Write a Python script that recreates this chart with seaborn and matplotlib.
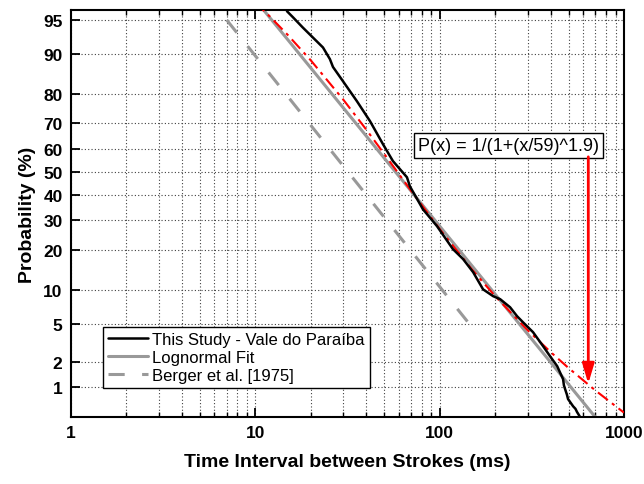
import math
import numpy as np
import pandas as pd
import matplotlib
matplotlib.use("Agg")
import matplotlib.pyplot as plt
from matplotlib.ticker import FixedLocator, FixedFormatter, NullFormatter, LogLocator
import seaborn as sns

# ---------------- data ----------------
study_x = [14.86, 16.0, 18.1, 21.6, 23.3, 25.4, 26.4, 29.9, 35.6, 41.9, 49.3, 55.8,
           66.5, 69.0, 81.2, 96.7, 118, 134, 152, 172, 195, 213, 241, 263, 283,
           321, 364, 397, 434, 467, 472, 479, 490, 497, 510, 530, 545, 556, 578, 600]
study_p = [95.9, 95.3, 94.1, 92.1, 91.1, 88.9, 87.2, 83.7, 77.8, 70.9, 61.8, 54.7,
           47.7, 43.8, 34.3, 27.9, 20.2, 17.3, 13.9, 10.2, 8.95, 8.43, 7.16, 5.93, 5.20,
           4.15, 2.97, 2.31, 1.78, 1.25, 1.05, 0.94, 0.80, 0.70, 0.64, 0.56, 0.52, 0.47, 0.40, 0.30]

lognormal_x = [8.8, 968]
lognormal_p = [97.72, 0.135]

berger_x = [7.0, 145]
berger_p = [95.0, 5.0]

loglogistic_x = [10, 12, 15, 20, 30, 40, 50, 70, 100, 150, 200, 300, 400, 500, 700, 1000]
loglogistic_p = [96.68, 95.37, 93.10, 88.65, 78.33, 67.67, 57.80, 41.95, 26.84, 14.52,
                 8.95, 4.35, 2.566, 1.696, 0.902, 0.460]

y_ticks = [1, 2, 5, 10, 20, 30, 40, 50, 60, 70, 80, 90, 95]
x_ticks = [1, 10, 100, 1000]
x_ticklabels = ["1", "10", "100", "1000"]

legend_labels = ["This Study - Vale do Paraíba", "Lognormal Fit", "Berger et al. [1975]"]
formula_text = "P(x) = 1/(1+(x/59)^1.9)"

# ---------------- normal probability scale ----------------
_a = [-3.969683028665376e+01, 2.209460984245205e+02, -2.759285104469687e+02,
      1.383577518672690e+02, -3.066479806614716e+01, 2.506628277459239e+00]
_b = [-5.447609879822406e+01, 1.615858368580409e+02, -1.556989798598866e+02,
      6.680131188771972e+01, -1.328068155288572e+01]
_c = [-7.784894002430293e-03, -3.223964580411365e-01, -2.400758277161838e+00,
      -2.549671010229528e+00, 4.374664141464968e+00, 2.938163982698783e+00]
_d = [7.784695709041462e-03, 3.224671290700398e-01, 2.445134137142996e+00,
      3.754408661907416e+00]


def _ppf(p):
    p = np.clip(np.asarray(p, dtype=float), 1e-12, 1 - 1e-12)
    plow = 0.02425
    q = p - 0.5
    r = q * q
    central = (((((_a[0]*r + _a[1])*r + _a[2])*r + _a[3])*r + _a[4])*r + _a[5]) * q / \
              (((((_b[0]*r + _b[1])*r + _b[2])*r + _b[3])*r + _b[4])*r + 1)
    ql = np.sqrt(-2 * np.log(np.minimum(p, 1 - p)))
    tail = (((((_c[0]*ql + _c[1])*ql + _c[2])*ql + _c[3])*ql + _c[4])*ql + _c[5]) / \
           ((((_d[0]*ql + _d[1])*ql + _d[2])*ql + _d[3])*ql + 1)
    return np.where(p < plow, tail, np.where(p > 1 - plow, -tail, central))


_erf = np.vectorize(math.erf, otypes=[float])


def fwd(pct):
    return _ppf(np.asarray(pct, dtype=float) / 100.0)


def inv(z):
    z = np.asarray(z, dtype=float)
    return 100.0 * 0.5 * (1.0 + _erf(z / math.sqrt(2.0)))


# ---------------- figure ----------------
sns.set_theme(style="ticks")
plt.rcParams["font.family"] = ["Liberation Sans", "DejaVu Sans"]
plt.rcParams.update({"text.color": "black", "axes.labelcolor": "black",
                     "xtick.color": "black", "ytick.color": "black"})

fig = plt.figure(figsize=(6.44, 4.85), dpi=100)
ax = fig.add_axes([0.110, 0.138, 0.969 - 0.110, 0.977 - 0.138])
ax.set_xscale("log")
ax.set_yscale("function", functions=(fwd, inv))
ax.set_xlim(1, 1000)
ax.set_ylim(0.40, 96.0)

df_s = pd.DataFrame({"x": study_x, "p": study_p})
df_l = pd.DataFrame({"x": lognormal_x, "p": lognormal_p})
df_b = pd.DataFrame({"x": berger_x, "p": berger_p})
df_r = pd.DataFrame({"x": loglogistic_x, "p": loglogistic_p})

sns.lineplot(data=df_r, x="x", y="p", ax=ax, sort=False, estimator=None,
             color="#ff0000", lw=1.5, linestyle=(0, (6, 2.5, 1.5, 2.5)), zorder=3)
sns.lineplot(data=df_b, x="x", y="p", ax=ax, sort=False, estimator=None,
             color="#999999", lw=2.2, linestyle=(0, (5.3, 5.7)), label=legend_labels[2], zorder=2)
sns.lineplot(data=df_l, x="x", y="p", ax=ax, sort=False, estimator=None,
             color="#999999", lw=2.2, label=legend_labels[1], zorder=2)
sns.lineplot(data=df_s, x="x", y="p", ax=ax, sort=False, estimator=None,
             color="black", lw=1.8, label=legend_labels[0], zorder=4)

ax.set_xlim(1, 1000)
ax.set_ylim(0.40, 96.0)

# ticks
ax.yaxis.set_major_locator(FixedLocator(y_ticks))
ax.yaxis.set_major_formatter(FixedFormatter([str(t) for t in y_ticks]))
ax.yaxis.set_minor_locator(FixedLocator([]))
ax.xaxis.set_major_locator(FixedLocator(x_ticks))
ax.xaxis.set_major_formatter(FixedFormatter(x_ticklabels))
ax.xaxis.set_minor_locator(LogLocator(base=10, subs=np.arange(2, 10)))
ax.xaxis.set_minor_formatter(NullFormatter())

ax.tick_params(axis="both", which="major", direction="in", length=6.5, width=1.3,
               labelsize=12.5, top=True, right=False, colors="black", pad=6)
ax.tick_params(axis="x", which="minor", direction="in", length=3.5, width=1.0, top=True)
for lab in ax.get_xticklabels() + ax.get_yticklabels():
    lab.set_fontweight("bold")

ax.grid(True, which="major", axis="both", color="0.25", linestyle=(0, (1, 2)), lw=0.8)
ax.grid(True, which="minor", axis="x", color="0.25", linestyle=(0, (1, 2)), lw=0.8)

for s in ax.spines.values():
    s.set_visible(True)
    s.set_color("black")
    s.set_linewidth(1.5)

ax.set_xlabel("Time Interval between Strokes (ms)", fontsize=14, fontweight="bold", labelpad=9)
ax.set_ylabel("Probability (%)", fontsize=14, fontweight="bold", labelpad=5)

# legend in reference order
handles, labels = ax.get_legend_handles_labels()
order = [labels.index(l) for l in legend_labels]
leg = ax.legend([handles[i] for i in order], [labels[i] for i in order],
                loc="lower left", bbox_to_anchor=(0.058, 0.071), borderaxespad=0,
                fontsize=12, fancybox=False, framealpha=1, edgecolor="black",
                handlelength=2.4, handletextpad=0.25, labelspacing=0.2, borderpad=0.3)
leg.get_frame().set_linewidth(1.0)

# annotation
ax.text(0.792, 0.668, formula_text, transform=ax.transAxes, ha="center", va="center",
        fontsize=13, zorder=6,
        bbox=dict(boxstyle="square,pad=0.22", fc="white", ec="black", lw=1.0))
ax.annotate("", xy=(640, 1.1), xytext=(640, 56.5),
            arrowprops=dict(arrowstyle="-|>,head_length=1.0,head_width=0.3",
                            color="red", lw=2, mutation_scale=12, shrinkA=0, shrinkB=0),
            zorder=6)

fig.savefig("out.png", dpi=100)
